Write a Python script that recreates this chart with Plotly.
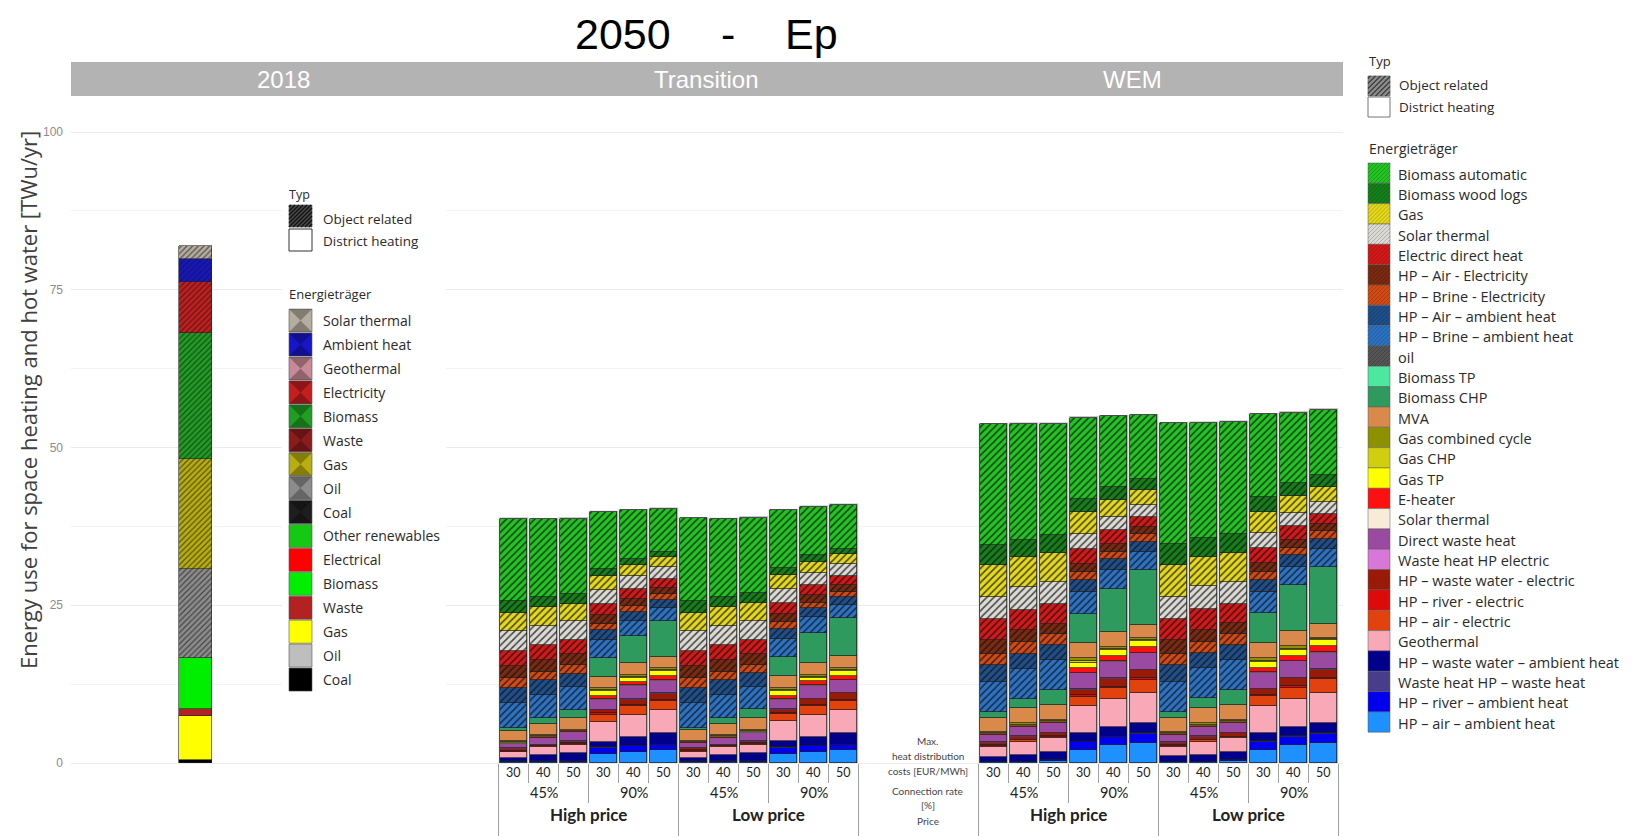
import plotly.graph_objects as go

# ------------------------------------------------------------------
# Scenario structure
# ------------------------------------------------------------------
facet_labels = ["2018", "Transition", "WEM"]
heat_cost_labels = ["30", "40", "50"] * 4
connection_labels = ["45%", "90%", "45%", "90%"]
price_labels = ["High price", "Low price"]

# bar slots on the x axis (one slot = one bar pitch)
transition_slots = list(range(12))
wem_slots = [16 + i for i in range(12)]
slot_2018 = -10.6

# ------------------------------------------------------------------
# 2050 values [TWu/yr]: 12 Transition bars followed by 12 WEM bars
# order inside each block: High price 45% (30/40/50), High 90%, Low 45%, Low 90%
# ------------------------------------------------------------------
# district heating
hp_air_ambient_dh = [.15, .15, .2, 1.43, 1.79, 2.06, .15, .15, .2, 1.45, 1.8, 2.1,
                     .1, .1, .3, 2.06, 2.85, 3.12, .1, .1, .3, 2.1, 2.9, 3.15]
hp_river_ambient = [.1, .1, .1, 1.0, .85, .74, .1, .1, .1, 1.0, .85, .75,
                    .05, .05, .1, 1.2, 1.2, 1.45, .05, .05, .1, 1.2, 1.2, 1.45]
waste_heat_hp_waste_heat = [.05, .05, .05, .06, .05, .05, .05, .05, .05, .06, .05, .05,
                            .05, .05, .05, .12, .12, .14, .05, .05, .05, .12, .12, .14]
hp_waste_water_ambient = [.5, .97, 1.19, .89, 1.48, 1.86, .55, 1.0, 1.2, .9, 1.5, 1.85,
                          .8, 1.07, 1.34, 1.33, 1.49, 1.58, .85, 1.1, 1.35, 1.33, 1.5, 1.6]
geothermal = [.9, 1.22, 1.31, 3.17, 3.44, 3.69, .95, 1.2, 1.3, 3.2, 3.45, 3.7,
              1.6, 2.11, 2.12, 4.32, 4.44, 4.75, 1.55, 2.1, 2.1, 4.3, 4.45, 4.8]
hp_air_electric = [.1, .15, .2, 1.13, 1.38, 1.38, .1, .15, .2, 1.13, 1.4, 1.4,
                   .1, .2, .2, 1.5, 1.74, 2.13, .1, .2, .2, 1.5, 1.75, 2.15]
hp_river_electric = [.1, .06, .08, .2, .2, .2, .1, .06, .08, .2, .2, .2,
                     .1, .1, .1, .25, .25, .25, .1, .1, .1, .25, .25, .25]
hp_waste_water_electric = [.35, .15, .25, .52, .86, 1.01, .3, .17, .25, .52, .85, 1.0,
                           .4, .49, .5, .85, 1.28, 1.27, .4, .5, .5, .85, 1.25, 1.25]
waste_heat_hp_electric = [.05] * 24
direct_waste_heat = [.75, 1.0, 1.43, 1.53, 2.1, 2.0, .75, 1.0, 1.4, 1.55, 2.1, 2.0,
                     1.15, 1.44, 1.53, 2.54, 2.63, 2.64, 1.15, 1.45, 1.55, 2.55, 2.65, 2.65]
solar_thermal_dh = [.05, .05, .05, .1, .1, .1, .05, .05, .05, .1, .1, .1,
                    .05, .05, .05, .1, .1, .1, .05, .05, .05, .1, .1, .1]
e_heater = [.1, .15, .1, .5, .58, .65, .1, .15, .1, .5, .6, .65,
            .1, .15, .15, .69, .81, .95, .1, .15, .15, .7, .8, .95]
gas_tp = [.05, .1, .05, .8, .6, .75, .05, .1, .05, .8, .6, .75,
          .1, .1, .1, .9, .9, .9, .1, .1, .1, .9, .9, .9]
gas_chp = [.05, .05, .05, .15, .15, .15, .05, .05, .05, .15, .15, .15,
           .1, .1, .1, .2, .2, .2, .1, .1, .1, .2, .2, .2]
gas_combined_cycle = [.2, .2, .12, .31, .32, .32, .2, .2, .12, .31, .32, .32,
                      .2, .23, .12, .48, .37, .23, .2, .23, .12, .48, .37, .23]
mva = [1.6, 1.73, 1.85, 1.84, 1.85, 1.84, 1.65, 1.75, 1.9, 1.85, 1.85, 1.85,
       2.13, 2.38, 2.38, 2.38, 2.38, 2.11, 2.15, 2.4, 2.4, 2.4, 2.4, 2.15]
biomass_chp = [.4, .9, 1.38, 2.91, 4.28, 5.65, .35, .85, 1.4, 3.0, 4.8, 6.0,
               1.0, 1.53, 2.33, 4.7, 6.83, 8.78, 1.0, 1.5, 2.35, 4.75, 7.35, 9.1]
biomass_tp = [0.0] * 24
# object related
oil = [0.0] * 24
hp_brine_ambient = [3.95, 3.65, 3.58, 2.85, 2.42, 2.13, 3.9, 3.7, 3.55, 2.85, 2.4, 2.15,
                    4.75, 4.76, 4.75, 3.43, 2.9, 2.79, 4.7, 4.8, 4.7, 3.4, 2.9, 2.8]
hp_air_ambient_obj = [2.4, 2.37, 2.13, 1.59, 1.43, 1.26, 2.45, 2.35, 2.15, 1.6, 1.45, 1.25,
                      2.65, 2.37, 2.38, 1.85, 1.85, 1.58, 2.7, 2.35, 2.4, 1.85, 1.85, 1.6]
hp_brine_electricity = [1.6, 1.32, 1.31, 1.06, .9, .84, 1.55, 1.3, 1.3, 1.05, .9, .85,
                        1.85, 1.84, 1.85, 1.32, 1.05, 1.33, 1.85, 1.85, 1.85, 1.3, 1.05, 1.3]
hp_air_electricity = [1.85, 1.96, 1.85, 1.31, 1.22, 1.07, 1.9, 1.95, 1.85, 1.3, 1.2, 1.05,
                      2.11, 1.86, 1.59, 1.33, 1.33, 1.05, 2.1, 1.85, 1.6, 1.35, 1.3, 1.05]
electric_direct_heat = [2.4, 2.27, 2.11, 1.86, 1.59, 1.42, 2.35, 2.3, 2.15, 1.85, 1.6, 1.45,
                        3.44, 3.28, 3.17, 2.38, 2.22, 1.58, 3.45, 3.3, 3.15, 2.35, 2.25, 1.6]
solar_thermal_obj = [3.2, 3.01, 3.06, 2.21, 1.95, 1.84, 3.25, 3.0, 3.05, 2.2, 1.95, 1.85,
                     3.42, 3.58, 3.42, 2.37, 1.99, 1.86, 3.4, 3.6, 3.45, 2.4, 2.0, 1.85]
gas_obj = [2.9, 3.06, 2.76, 2.12, 1.74, 1.58, 2.85, 3.1, 2.8, 2.1, 1.75, 1.6,
           5.03, 4.75, 4.6, 3.43, 2.65, 2.37, 5.05, 4.7, 4.6, 3.4, 2.65, 2.4]
biomass_wood_logs = [1.85, 1.58, 1.58, 1.22, 1.06, .8, 1.9, 1.6, 1.6, 1.25, 1.05, .8,
                     3.17, 2.65, 2.8, 2.12, 2.11, 1.86, 3.4, 2.9, 3.05, 2.35, 2.1, 1.85]
biomass_automatic = [13.05, 12.32, 11.89, 8.97, 7.66, 6.87, 13.05, 12.3, 11.95, 9.1, 7.65, 7.0,
                     19.17, 18.49, 17.7, 12.84, 11.2, 10.03, 19.1, 18.35, 17.7, 13.1, 11.2, 10.45]

# 2018 (stack order bottom -> top)
carriers_2018 = ["Coal", "Oil", "Gas", "Waste", "Biomass", "Electrical", "Other renewables",
                 "Coal", "Oil", "Gas", "Waste", "Biomass", "Electricity", "Geothermal",
                 "Ambient heat", "Solar thermal"]
type_2018 = ["District heating"] * 7 + ["Object related"] * 9
values_2018 = [0.5, 0.0, 7.0, 1.0, 8.2, 0.0, 0.0,
               0.0, 14.0, 17.5, 0.0, 19.9, 8.2, 0.0, 3.6, 2.0]

# ------------------------------------------------------------------
# Styles
# ------------------------------------------------------------------
colors_2018 = ["#000000", "#bebebe", "#ffff00", "#b22222", "#00ee00", "#ff0000", "#14c814",
               "#1e1e1e", "#8c8c8c", "#b8ae10", "#8c1c1c", "#1f9e22", "#c41e1e", "#c98a98",
               "#1616c8", "#b5ad9e"]

series_2050 = [  # (label, values, colour, object related) bottom -> top
    ("HP \u2013 air \u2013 ambient heat", hp_air_ambient_dh, "#1e90ff", False),
    ("HP \u2013 river \u2013 ambient heat", hp_river_ambient, "#0000ee", False),
    ("Waste heat HP \u2013 waste heat", waste_heat_hp_waste_heat, "#483d8b", False),
    ("HP \u2013 waste water \u2013 ambient heat", hp_waste_water_ambient, "#00008b", False),
    ("Geothermal", geothermal, "#f9a8b8", False),
    ("HP \u2013 air - electric", hp_air_electric, "#e2420e", False),
    ("HP \u2013 river - electric", hp_river_electric, "#dd0a0a", False),
    ("HP \u2013 waste water - electric", hp_waste_water_electric, "#9a1a08", False),
    ("Waste heat HP electric", waste_heat_hp_electric, "#d877d8", False),
    ("Direct waste heat", direct_waste_heat, "#9a4aa0", False),
    ("Solar thermal", solar_thermal_dh, "#f8ecd8", False),
    ("E-heater", e_heater, "#ff1010", False),
    ("Gas TP", gas_tp, "#ffff00", False),
    ("Gas CHP", gas_chp, "#cfcf10", False),
    ("Gas combined cycle", gas_combined_cycle, "#8d9100", False),
    ("MVA", mva, "#d98a4a", False),
    ("Biomass CHP", biomass_chp, "#2e9a5e", False),
    ("Biomass TP", biomass_tp, "#4ce8a0", False),
    ("oil", oil, "#555555", True),
    ("HP \u2013 Brine \u2013 ambient heat", hp_brine_ambient, "#2c72c2", True),
    ("HP \u2013 Air \u2013 ambient heat", hp_air_ambient_obj, "#1f4f8a", True),
    ("HP \u2013 Brine - Electricity", hp_brine_electricity, "#d24a14", True),
    ("HP \u2013 Air - Electricity", hp_air_electricity, "#7a2a10", True),
    ("Electric direct heat", electric_direct_heat, "#d41818", True),
    ("Solar thermal", solar_thermal_obj, "#dcdad4", True),
    ("Gas", gas_obj, "#e3d81a", True),
    ("Biomass wood logs", biomass_wood_logs, "#15801a", True),
    ("Biomass automatic", biomass_automatic, "#22c322", True),
]

FIG_W, FIG_H = 1632, 838
PLOT_L, PLOT_R = 71, 1343
FONT_CHART = "Liberation Sans, Arial, sans-serif"
FONT_NOTE = "Open Sans, Lato, sans-serif"
FONT_TABLE = "Lato, Open Sans, sans-serif"


def xp(px):
    return (px - PLOT_L) / (PLOT_R - PLOT_L)


def yp(py):
    return 1 - py / FIG_H


fig = go.Figure()
x_2050 = transition_slots + wem_slots

for label, vals, color, obj in series_2050:
    if not any(vals):
        continue
    marker = dict(color=color, line=dict(color="#1e1e1e", width=0.7))
    if obj:
        marker["pattern"] = dict(shape="/", fillmode="overlay", fgcolor="#111111",
                                 fgopacity=0.75, size=5, solidity=0.3)
    fig.add_trace(go.Bar(x=x_2050, y=vals, width=0.9, name=label, marker=marker,
                         showlegend=False))

for carrier, typ, val, color in zip(carriers_2018, type_2018, values_2018, colors_2018):
    if val == 0:
        continue
    marker = dict(color=color, line=dict(color="#222222", width=0.6))
    if typ == "Object related":
        marker["pattern"] = dict(shape="/", fillmode="overlay", fgcolor="#151515",
                                 fgopacity=0.6, size=4, solidity=0.3)
    fig.add_trace(go.Bar(x=[slot_2018], y=[val], width=1.13, name=carrier, marker=marker,
                         showlegend=False))

shapes = []
annotations = []

# light grey frame behind every 2050 bar
totals = [sum(col) for col in zip(*[s[1] for s in series_2050])]
for s, tot in zip(x_2050, totals):
    shapes.append(dict(type="rect", xref="x", yref="y", x0=s - 0.49, x1=s + 0.49,
                       y0=0, y1=tot + 0.2, fillcolor="#b4b4b4", line=dict(width=0),
                       layer="between"))

# facet strip
shapes.append(dict(type="rect", xref="paper", yref="paper", x0=0, x1=1,
                   y0=yp(96), y1=yp(62), fillcolor="#b3b3b3", line=dict(width=0)))
for lab, cx in zip(facet_labels, [283, 706, 1132]):
    annotations.append(dict(text=lab, xref="paper", yref="paper", x=xp(cx), y=yp(79),
                            xanchor="center", yanchor="middle", showarrow=False,
                            font=dict(family=FONT_CHART, size=24, color="white")))

# title
for txt, cx in zip(["2050", "-", "Ep"], [623, 728, 812]):
    annotations.append(dict(text=txt, xref="paper", yref="paper", x=xp(cx), y=yp(34),
                            xanchor="center", yanchor="middle", showarrow=False,
                            font=dict(family=FONT_CHART, size=43, color="black")))

# y axis title
annotations.append(dict(text="Energy use for space heating and hot water [TWu/yr]",
                        xref="paper", yref="paper", x=xp(28), y=yp(400), textangle=-90,
                        xanchor="center", yanchor="middle", showarrow=False,
                        font=dict(family=FONT_NOTE, size=22, color="#404040")))

# scenario table below the 2050 bars
LINE_C = "#a0a0a0"
for start in (transition_slots[0], wem_slots[0]):
    for k in range(13):
        x = start - 0.5 + k
        if k in (0, 6, 12):
            bottom = 836
        elif k in (3, 9):
            bottom = 803
        else:
            bottom = 783
        shapes.append(dict(type="line", xref="x", yref="paper", x0=x, x1=x,
                           y0=yp(764), y1=yp(bottom), line=dict(color=LINE_C, width=1)))
    for k in range(12):
        annotations.append(dict(text=heat_cost_labels[k], xref="x", yref="paper",
                                x=start + k, y=yp(772), showarrow=False,
                                xanchor="center", yanchor="middle",
                                font=dict(family=FONT_TABLE, size=12.5, color="#222")))
    for j, lab in enumerate(connection_labels):
        annotations.append(dict(text=lab, xref="x", yref="paper", x=start + 1 + 3 * j,
                                y=yp(792), showarrow=False, xanchor="center",
                                yanchor="middle",
                                font=dict(family=FONT_TABLE, size=14.5, color="#222")))
    for j, lab in enumerate(price_labels):
        annotations.append(dict(text="<b>" + lab + "</b>", xref="x", yref="paper",
                                x=start + 2.5 + 6 * j, y=yp(814), showarrow=False,
                                xanchor="center", yanchor="middle",
                                font=dict(family=FONT_TABLE, size=17, color="#222")))

row_titles = [("Max.", 741), ("heat distribution", 756), ("costs [EUR/MWh]", 771),
              ("Connection rate", 791), ("[%]", 805), ("Price", 821)]
for txt, y in row_titles:
    annotations.append(dict(text=txt, xref="x", yref="paper", x=13.8, y=yp(y),
                            showarrow=False, xanchor="center", yanchor="middle",
                            font=dict(family=FONT_TABLE, size=10, color="#444")))


def hatch(x0, y0, x1, y1, step, color, width=1.0):
    out = []
    c = x0 + y0 + step * 0.5
    while c < x1 + y1:
        xa, xb = max(x0, c - y1), min(x1, c - y0)
        if xb > xa:
            out.append(dict(type="line", xref="paper", yref="paper",
                            x0=xp(xa), y0=yp(c - xa), x1=xp(xb), y1=yp(c - xb),
                            line=dict(color=color, width=width)))
        c += step
    return out


def swatch(x0, y0, x1, y1, fill, border="#555555", bw=0.6):
    return dict(type="rect", xref="paper", yref="paper", x0=xp(x0), x1=xp(x1),
                y0=yp(y1), y1=yp(y0), fillcolor=fill, line=dict(color=border, width=bw))


def note(text, x, y, size=13.5, color="#2a2a2a"):
    annotations.append(dict(text=text, xref="paper", yref="paper", x=xp(x), y=yp(y),
                            xanchor="left", yanchor="middle", showarrow=False,
                            font=dict(family=FONT_NOTE, size=size, color=color)))


# ---- legend of the 2018 bar ----
shapes.append(swatch(282, 186, 446, 692, "white", border="white", bw=0))
note("Typ", 287, 194, 12.5)
shapes.append(swatch(289, 205, 312, 227, "#4a4a4a"))
shapes.extend(hatch(289, 205, 312, 227, 4, "#111111", 1.2))
note("Object related", 321, 219, 13.5)
shapes.append(swatch(289, 229, 312, 251, "white", border="#333333", bw=1))
note("District heating", 321, 241, 13.5)
note("Energieträger", 287, 294, 13)
legend_2018 = list(zip(carriers_2018, type_2018, colors_2018))[::-1]
for i, (name, typ, color) in enumerate(legend_2018):
    cy = 320.6 + i * 23.93
    y0, y1 = cy - 11.5, cy + 11.5
    shapes.append(swatch(289, y0, 312, y1, color))
    if typ == "Object related":
        shapes.append(dict(type="path", xref="paper", yref="paper",
                           path=(f"M {xp(289)},{yp(y0)} L {xp(312)},{yp(y0)} L {xp(300.5)},{yp(cy)} Z "
                                 f"M {xp(289)},{yp(y1)} L {xp(312)},{yp(y1)} L {xp(300.5)},{yp(cy)} Z"),
                           fillcolor="rgba(0,0,0,0.28)", line=dict(width=0)))
    note(name, 321, cy, 14)

# ---- legend of the 2050 bars ----
note("Typ", 1367, 61, 13)
shapes.append(swatch(1368, 76, 1390, 96, "#8e8e8e"))
shapes.extend(hatch(1368, 76, 1390, 96, 5, "rgba(40,40,40,0.8)", 1.2))
note("Object related", 1397, 85, 13.5)
shapes.append(swatch(1368, 97, 1390, 117, "white", border="#777777", bw=1))
note("District heating", 1397, 107, 13.5)
note("Energieträger", 1367, 148, 14)
pitch = 20.33
for i, (label, vals, color, obj) in enumerate(series_2050[::-1]):
    y0 = 163 + i * pitch
    shapes.append(swatch(1368, y0, 1390, y0 + pitch, color, border="#5a5a5a", bw=0.5))
    if obj:
        shapes.extend(hatch(1368, y0, 1390, y0 + pitch, 4, "rgba(0,0,0,0.25)", 0.8))
    note(label, 1396, y0 + pitch / 2 + 1, 14.5)

fig.update_layout(
    width=FIG_W, height=FIG_H,
    margin=dict(l=PLOT_L, r=FIG_W - PLOT_R, t=0, b=0),
    paper_bgcolor="white", plot_bgcolor="white",
    barmode="stack", bargap=0,
    xaxis=dict(range=[-14.75, 27.65], showgrid=False, zeroline=False,
               showticklabels=False, showline=False, ticks=""),
    yaxis=dict(range=[-11.886, 120.92], tickvals=[0, 25, 50, 75, 100],
               showgrid=True, gridcolor="#ebebeb", gridwidth=1, zeroline=False,
               showline=False, ticks="", ticklabelstandoff=7,
               tickfont=dict(family=FONT_CHART, size=12, color="#8c8c8c"),
               minor=dict(tickvals=[12.5, 37.5, 62.5, 87.5], showgrid=True,
                          gridcolor="#f3f3f3", gridwidth=1)),
    shapes=shapes,
    annotations=annotations,
)

fig.write_html("out.html")
